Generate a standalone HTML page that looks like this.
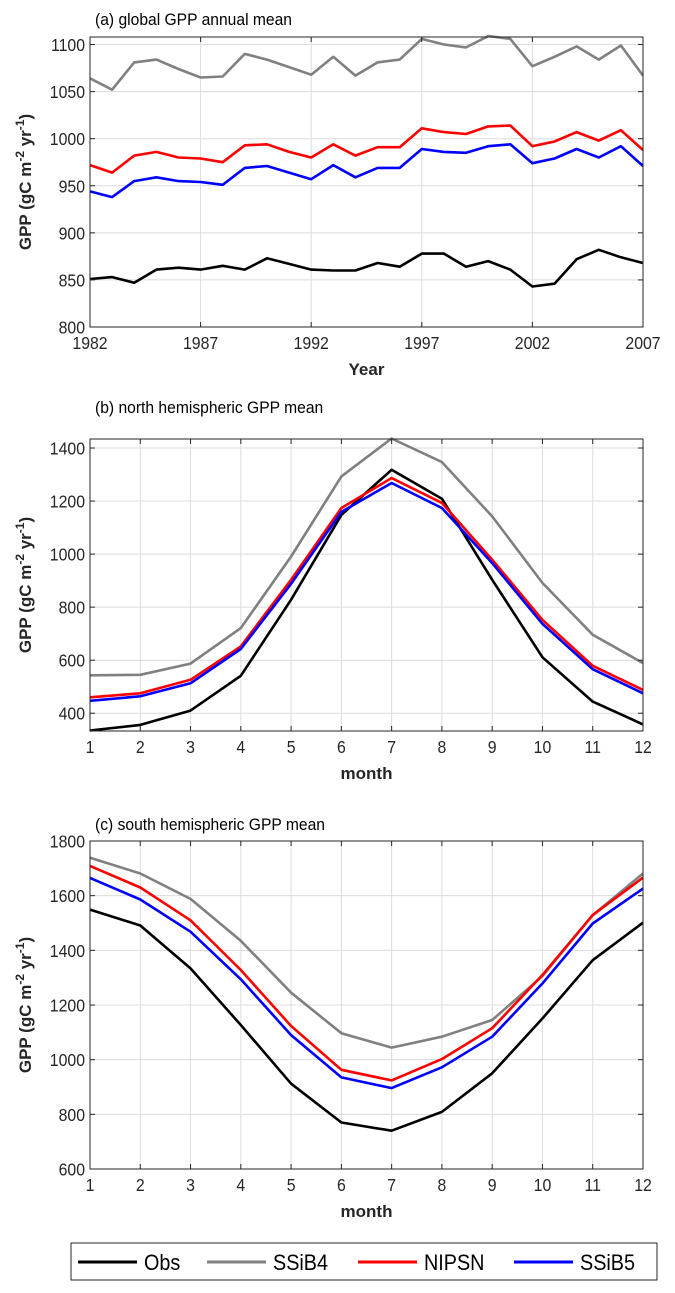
<!DOCTYPE html>
<html><head><meta charset="utf-8">
<style>
body{margin:0;background:#fff;}
svg{display:block;font-family:"Liberation Sans",Arial,sans-serif;}
</style></head>
<body>
<svg id="chart" width="675" height="1293" viewBox="0 0 675 1293" xmlns="http://www.w3.org/2000/svg"></svg>
<script>
// Panel (a) data
const yearsA = [1982,1983,1984,1985,1986,1987,1988,1989,1990,1991,1992,1993,1994,1995,1996,1997,1998,1999,2000,2001,2002,2003,2004,2005,2006,2007];
const obsA   = [851,853,847,861,863,861,865,861,873,867,861,860,860,868,864,878,878,864,870,861,843,846,872,882,874,868];
const ssib4A = [1064,1052,1081,1084,1074,1065,1066,1090,1084,1076,1068,1087,1067,1081,1084,1106,1100,1097,1109,1106,1077,1087,1098,1084,1099,1067];
const nipsnA = [972,964,982,986,980,979,975,993,994,986,980,994,982,991,991,1011,1007,1005,1013,1014,992,997,1007,998,1009,988];
const ssib5A = [944,938,955,959,955,954,951,969,971,964,957,972,959,969,969,989,986,985,992,994,974,979,989,980,992,971];
const yTicksA = [800,850,900,950,1000,1050,1100];
const xTicksA = [1982,1987,1992,1997,2002,2007];
// Panel (b) data
const months = [1,2,3,4,5,6,7,8,9,10,11,12];
const obsB   = [335,356,410,541,828,1148,1318,1209,903,611,444,358];
const ssib4B = [543,545,587,721,991,1293,1436,1347,1142,891,696,589];
const nipsnB = [460,475,526,652,903,1174,1287,1193,979,752,579,488];
const ssib5B = [447,464,513,642,888,1159,1268,1174,966,737,566,475];
const yTicksB = [400,600,800,1000,1200,1400];
// Panel (c) data
const obsC   = [1549,1491,1334,1127,912,770,740,809,950,1151,1364,1501];
const ssib4C = [1739,1681,1588,1435,1245,1097,1044,1084,1145,1306,1529,1681];
const nipsnC = [1709,1630,1510,1328,1123,963,924,1002,1115,1310,1529,1666];
const ssib5C = [1665,1586,1468,1294,1090,935,896,972,1084,1279,1498,1626];
const yTicksC = [600,800,1000,1200,1400,1600,1800];
const seriesNames = ["Obs","SSiB4","NIPSN","SSiB5"];

const NS="http://www.w3.org/2000/svg";
const svg=document.getElementById('chart');
function el(tag,attrs,parent){const e=document.createElementNS(NS,tag);for(const k in attrs)e.setAttribute(k,attrs[k]);(parent||svg).appendChild(e);return e;}
const colors=["#000000","#808080","#ff0000","#0000ff"];
const SX=0.88;

function panel(id,cfg){
  const g=el('g',{});
  
  
  const L=90,R=643,T=cfg.top,B=cfg.bottom;
  const sx=v=>L+(v-cfg.xmin)/(cfg.xmax-cfg.xmin)*(R-L);
  const sy=v=>B-(v-cfg.ymin)/(cfg.ymax-cfg.ymin)*(B-T);
  cfg.xticks.forEach(t=>{
    const gl=el('line',{x1:sx(t),x2:sx(t),y1:T,y2:B,stroke:'#dcdcdc','stroke-width':1},g);
    
    
  });
  cfg.yticks.forEach(t=>{
    const gl=el('line',{x1:L,x2:R,y1:sy(t),y2:sy(t),stroke:'#dcdcdc','stroke-width':1},g);
    
    
  });
  cfg.series.forEach((s,i)=>{
    const d=s.map((v,j)=>(j?'L':'M')+sx(cfg.x[j]).toFixed(1)+','+sy(v).toFixed(1)).join(' ');
    const p=el('path',{d:d,fill:'none',stroke:colors[i],'stroke-width':cfg.lw,'stroke-linejoin':'round'},g);
    
    
  });
  cfg.xticks.forEach(t=>{
    el('line',{x1:sx(t),x2:sx(t),y1:B,y2:B-5,stroke:'#262626'},g);
    el('line',{x1:sx(t),x2:sx(t),y1:T,y2:T+5,stroke:'#262626'},g);
    const tx=el('text',{x:0,y:0,'font-size':18,'text-anchor':'middle',fill:'#262626',transform:`translate(${sx(t)},${B+22}) scale(${SX},1)`},g);
    tx.textContent=t;
    
    
  });
  cfg.yticks.forEach(t=>{
    el('line',{x1:L,x2:L+5,y1:sy(t),y2:sy(t),stroke:'#262626'},g);
    el('line',{x1:R,x2:R-5,y1:sy(t),y2:sy(t),stroke:'#262626'},g);
    const tx=el('text',{x:0,y:0,'font-size':18,'text-anchor':'end',fill:'#262626',transform:`translate(${L-5},${sy(t)+6.5}) scale(${SX},1)`},g);
    tx.textContent=t;
    
    
  });
  const box=el('rect',{x:L,y:T,width:R-L,height:B-T,fill:'none',stroke:'#262626','stroke-width':1},g);
  
  
  const ti=el('text',{x:0,y:0,'font-size':17,fill:'#000',transform:`translate(95,${cfg.titleY}) scale(0.92,1)`},g);
  ti.textContent=cfg.title;
  
  
  const xl=el('text',{x:(L+R)/2,y:B+48,'font-size':17,'font-weight':'bold','text-anchor':'middle',fill:'#262626'},g);
  xl.textContent=cfg.xlabel;
  
  
  const cy=(T+B)/2;
  const yl=el('text',{x:0,y:0,'font-size':17,'font-weight':'bold','text-anchor':'middle',fill:'#262626',transform:`translate(31,${cy}) rotate(-90)`},g);
  yl.innerHTML='GPP (gC m<tspan dy="-7" font-size="12">-2</tspan><tspan dy="7"> yr</tspan><tspan dy="-7" font-size="12">-1</tspan><tspan dy="7">)</tspan>';
  
  
}

panel('panel-a-global',{top:37,bottom:327,xmin:1982,xmax:2007,ymin:800,ymax:1108,x:yearsA,series:[obsA,ssib4A,nipsnA,ssib5A],xticks:xTicksA,yticks:yTicksA,lw:2.6,title:'(a) global GPP annual mean',titleY:25,xlabel:'Year'});
panel('panel-b-north',{top:439,bottom:731,xmin:1,xmax:12,ymin:333,ymax:1434,x:months,series:[obsB,ssib4B,nipsnB,ssib5B],xticks:months,yticks:yTicksB,lw:2.6,title:'(b) north hemispheric GPP mean',titleY:413,xlabel:'month'});
panel('panel-c-south',{top:841,bottom:1169,xmin:1,xmax:12,ymin:600,ymax:1800,x:months,series:[obsC,ssib4C,nipsnC,ssib5C],xticks:months,yticks:yTicksC,lw:2.6,title:'(c) south hemispheric GPP mean',titleY:830,xlabel:'month'});

const lg=el('g',{});


el('rect',{x:71,y:1243,width:586,height:37,fill:'#fff',stroke:'#262626','stroke-width':1},lg);
const lx=[78,207,358,514];
seriesNames.forEach((n,i)=>{
  const e=el('g',{},lg);
  
  
  el('line',{x1:lx[i],x2:lx[i]+59,y1:1262,y2:1262,stroke:colors[i],'stroke-width':3},e);
  const t=el('text',{x:0,y:0,'font-size':22,fill:'#000',transform:`translate(${lx[i]+66},1270) scale(0.9,1)`},e);
  t.textContent=n;
});
</script>
</body></html>
